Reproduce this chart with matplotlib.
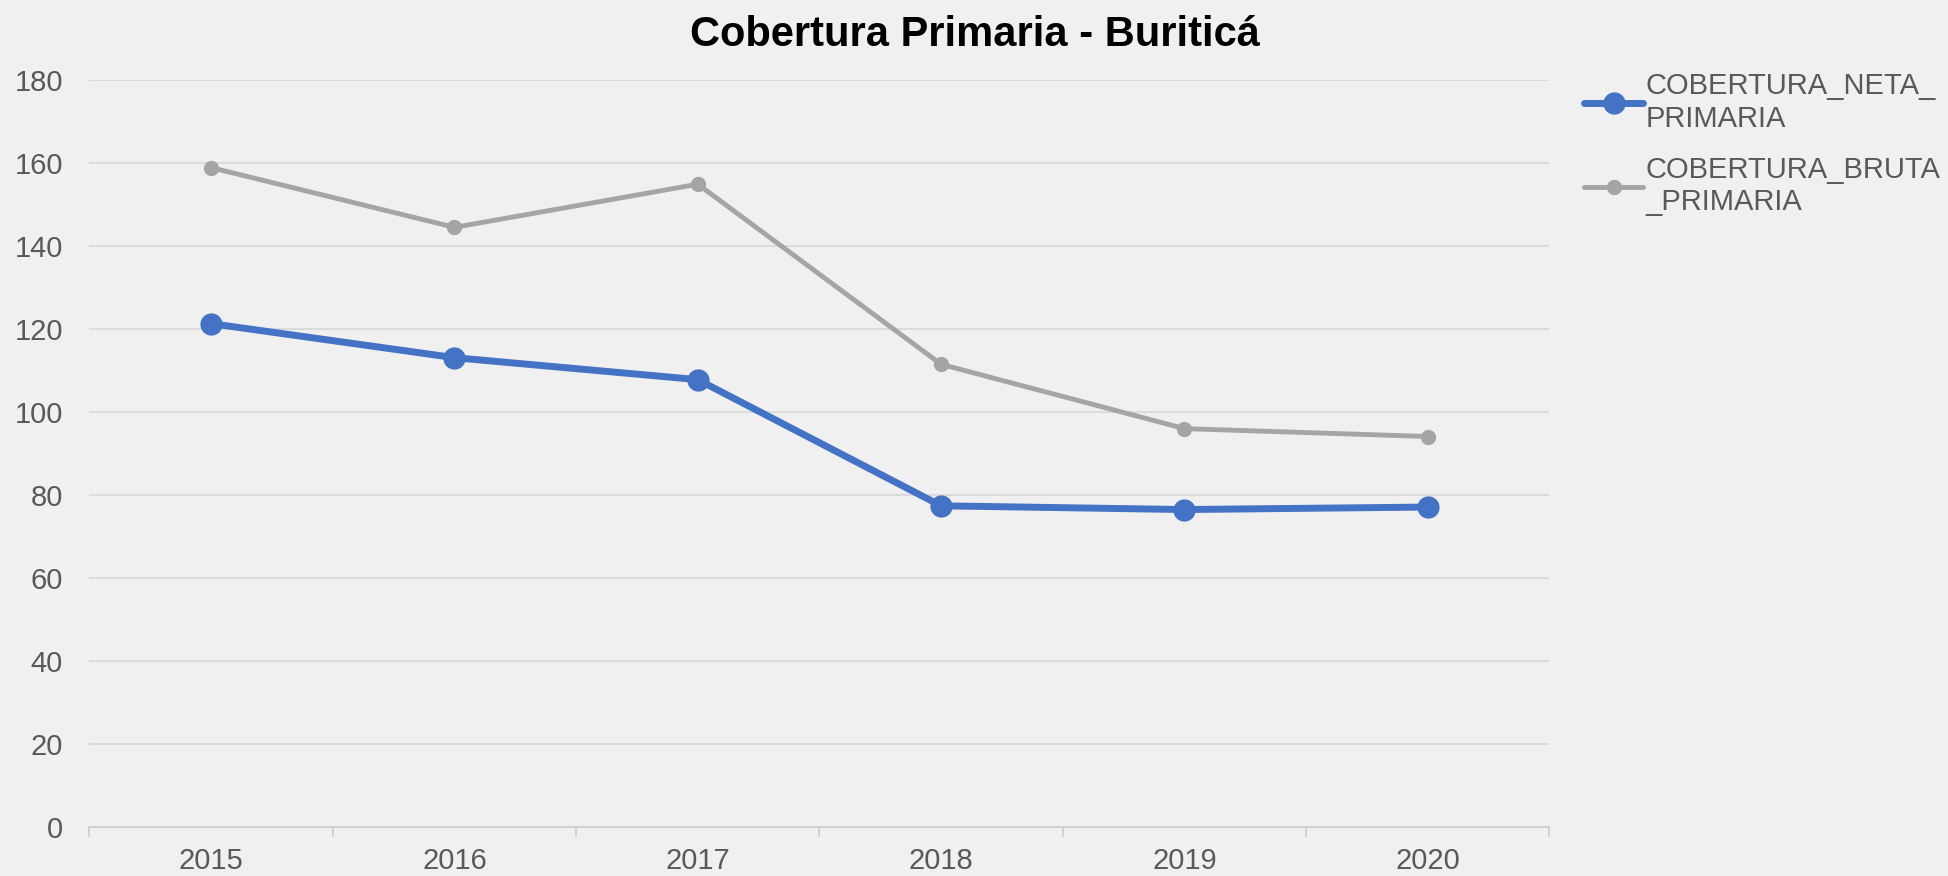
import matplotlib.pyplot as plt
from matplotlib.ticker import FixedLocator

years = ["2015", "2016", "2017", "2018", "2019", "2020"]
neta = [121.2, 113.0, 107.7, 77.3, 76.4, 77.0]
bruta = [158.8, 144.4, 154.8, 111.4, 95.9, 94.0]
y_ticks = [0, 20, 40, 60, 80, 100, 120, 140, 160, 180]

bg = "#f0f0f0"
txt = "#595959"

fig = plt.figure(figsize=(19.49, 8.76), dpi=100, facecolor=bg)
ax = fig.add_axes([0.0459, 0.0564, 0.7491, 0.8527], facecolor=bg)

x = range(len(years))
ax.plot(x, neta, color="#4472C4", linewidth=5, marker="o", markersize=15,
        label="COBERTURA_NETA_\nPRIMARIA", solid_capstyle="round", zorder=3)
ax.plot(x, bruta, color="#A5A5A5", linewidth=3.5, marker="o", markersize=10,
        label="COBERTURA_BRUTA\n_PRIMARIA", solid_capstyle="round", zorder=3)

ax.set_xlim(-0.5, len(years) - 0.5)
ax.set_ylim(0, 180)
ax.set_yticks(y_ticks)
ax.set_xticks(list(x))
ax.set_xticklabels(years)
ax.xaxis.set_minor_locator(FixedLocator([i - 0.5 for i in range(len(years) + 1)]))

ax.grid(axis="y", color="#d9d9d9", linewidth=1.3)
ax.set_axisbelow(True)
for s in ["top", "right", "left"]:
    ax.spines[s].set_visible(False)
ax.spines["bottom"].set_color("#d0d0d0")
ax.spines["bottom"].set_linewidth(1.3)

ax.tick_params(axis="y", length=0, pad=19, labelsize=21, labelcolor=txt)
ax.tick_params(axis="x", which="major", length=0, pad=15, labelsize=21, labelcolor=txt)
ax.tick_params(axis="x", which="minor", length=7, width=1.3, color="#d0d0d0")
for lab in ax.get_xticklabels() + ax.get_yticklabels():
    lab.set_family("Liberation Sans")

fig.text(0.5, 0.96, "Cobertura Primaria - Buriticá", ha="center", va="center",
         fontsize=30, fontweight="bold", family=["Liberation Sans", "DejaVu Sans"])

leg = ax.legend(loc="upper left", bbox_to_anchor=(1.006, 1.045), frameon=False,
                prop={"family": "Liberation Sans", "size": 21}, handlelength=2.0,
                handletextpad=0.1, labelspacing=0.8, labelcolor=txt)

fig.savefig("out.png", dpi=100, facecolor=bg)
